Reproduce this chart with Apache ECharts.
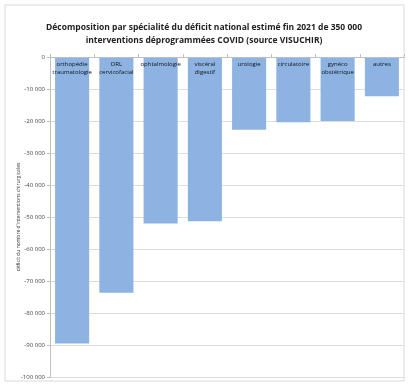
<!DOCTYPE html>
<html lang="fr">
<head>
    <meta charset="utf-8">
    <title>deficit</title>
    <script src="https://cdn.jsdelivr.net/npm/echarts@6/dist/echarts.min.js"></script>
    <style>
        html, body { margin: 0; padding: 0; background: #fff; }
        #chart { width: 408px; height: 385px; }
    </style>
</head>
<body>
<div id="chart"></div>
<script>
    var specialites = ['orthopédie\ntraumatologie', 'ORL\ncervicofacial', 'ophtalmologie', 'viscéral\ndigestif',
        'urologie', 'circulatoire', 'gynéco\nobstétrique', 'autres'];
    var deficit = [-89500, -73700, -52000, -51300, -22700, -20400, -20000, -12300];

    var chart = echarts.init(document.getElementById('chart'));

    function fmt(v) {
        var s = String(Math.abs(v)).replace(/\B(?=(\d{3})+(?!\d))/g, ' ');
        return (v < 0 ? '-' : '') + s;
    }

    chart.setOption({
        animation: false,
        textStyle: { fontFamily: 'Liberation Sans Narrow, Open Sans, sans-serif' },
        graphic: [{
            type: 'rect',
            shape: { x: 5, y: 5, width: 399, height: 376 },
            style: { fill: 'none', stroke: '#d9d9d9', lineWidth: 1 }
        }],
        title: {
            text: 'Décomposition par spécialité du déficit national estimé fin 2021 de 350 000\ninterventions déprogrammées COVID (source VISUCHIR)',
            left: 'center',
            top: 16,
            textStyle: { fontSize: 8.5, fontWeight: 'bold', color: '#222', lineHeight: 13 }
        },
        grid: { left: 50, right: 4, top: 57, bottom: 8 },
        xAxis: {
            type: 'category',
            data: specialites,
            position: 'top',
            z: 10,
            axisLine: { show: true, lineStyle: { color: '#bfbfbf' } },
            axisTick: { show: true, inside: false, length: 3, lineStyle: { color: '#bfbfbf' } },
            axisLabel: { inside: true, margin: 3, fontSize: 6, color: '#111', lineHeight: 8, interval: 0 }
        },
        yAxis: {
            type: 'value',
            min: -100000,
            max: 0,
            interval: 10000,
            name: "déficit du nombre d'interventions chirurgicales",
            nameLocation: 'middle',
            nameGap: 29,
            nameMoveOverlap: false,
            nameTextStyle: { fontSize: 5, color: '#333' },
            axisLine: { show: true, lineStyle: { color: '#bfbfbf' } },
            axisTick: { show: true, length: 3, lineStyle: { color: '#bfbfbf' } },
            axisLabel: { fontSize: 6, color: '#444', margin: 5, formatter: fmt },
            splitLine: { lineStyle: { color: '#dcdcdc' } }
        },
        series: [{
            type: 'bar',
            data: deficit,
            barCategoryGap: '23%',
            itemStyle: { color: '#8db3e2' }
        }]
    });
</script>
</body>
</html>
